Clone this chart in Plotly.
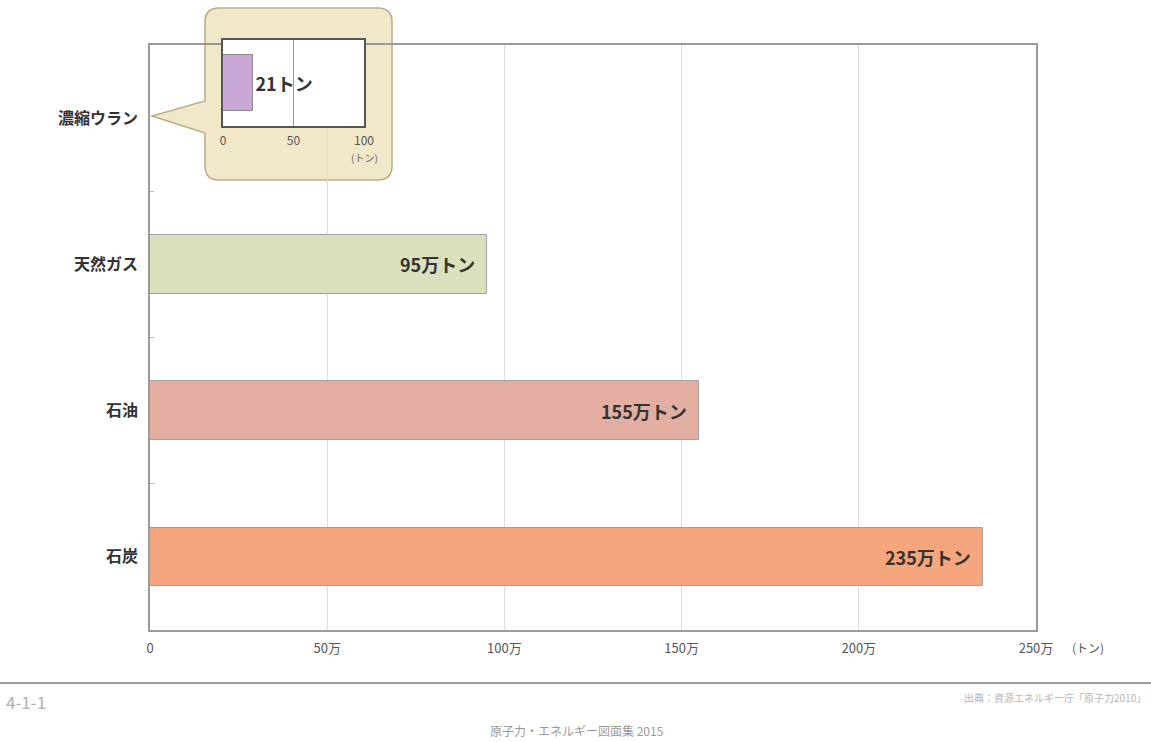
import plotly.graph_objects as go

# ---- data ----
categories = ["濃縮ウラン", "天然ガス", "石油", "石炭"]
values_ton = [21, 950000, 1550000, 2350000]
bar_labels = ["21トン", "95万トン", "155万トン", "235万トン"]
bar_colors = ["#c9a8d6", "#d9e0bd", "#e3aea2", "#f5a67c"]
main_tickvals = [0, 500000, 1000000, 1500000, 2000000, 2500000]
main_ticktext = ["0", "50万", "100万", "150万", "200万", "250万"]
inset_tickvals = [0, 50, 100]
inset_ticktext = ["0", "50", "100"]

W, H = 1151, 742
FONT = "Noto Sans CJK JP"

fig = go.Figure()

# main bars (large-scale fuels)
fig.add_trace(go.Bar(
    y=categories, x=values_ton, orientation="h",
    marker=dict(color=bar_colors, line=dict(color="#a0a0a0", width=1)),
    width=0.4, xaxis="x", yaxis="y", showlegend=False, hoverinfo="x+y",
))
# labels at the inside end of the large bars
for c, v, t in zip(categories[1:], values_ton[1:], bar_labels[1:]):
    fig.add_annotation(x=v, y=c, xref="x", yref="y", text=t, showarrow=False,
                       xanchor="right", yanchor="middle", xshift=-10,
                       font=dict(family=FONT, size=18, color="#333333", weight="bold"))

# inset bar (uranium, tonnes)
fig.add_trace(go.Bar(
    y=[categories[0]], x=[values_ton[0]], orientation="h",
    marker=dict(color=bar_colors[0], line=dict(color="#8a8a8a", width=1)),
    width=0.66, xaxis="x2", yaxis="y2", showlegend=False,
    text=[bar_labels[0]], textposition="outside", cliponaxis=False,
    textfont=dict(family=FONT, size=18, color="#333333", weight="bold"),
))

def px_x(px):  # pixel -> x2 domain
    return (px - 223) / (364 - 223)

def px_y(py):  # pixel -> y2 domain
    return (126 - py) / (126 - 40)

# callout balloon
x0, x1, y0, y1, r = 205, 392, 8, 180, 14
pts = [
    ("M", (x0 + r, y0)), ("L", (x1 - r, y0)), ("Q", (x1, y0), (x1, y0 + r)),
    ("L", (x1, y1 - r)), ("Q", (x1, y1), (x1 - r, y1)), ("L", (x0 + r, y1)),
    ("Q", (x0, y1), (x0, y1 - r)), ("L", (x0, 133)), ("L", (152, 116)),
    ("L", (x0, 101)), ("L", (x0, y0 + r)), ("Q", (x0, y0), (x0 + r, y0)),
]
path = ""
for item in pts:
    cmd = item[0]
    coords = " ".join(f"{px_x(p[0]):.4f},{px_y(p[1]):.4f}" for p in item[1:])
    path += f"{cmd}{coords} "
path += "Z"
fig.add_shape(type="path", path=path, xref="x2 domain", yref="y2 domain",
              fillcolor="#f1e8c9", line=dict(color="#b9ad88", width=1.5), layer="below")
fig.add_shape(type="rect", x0=0, x1=1, y0=0, y1=1, xref="x2 domain", yref="y2 domain",
              fillcolor="white", line=dict(width=0), layer="below")

fig.add_annotation(x=1, y=-0.37, xref="x2 domain", yref="y2 domain", text="(トン)",
                   showarrow=False, xanchor="center", yanchor="middle",
                   font=dict(family=FONT, size=10, color="#666666"))

# main axis unit
fig.add_annotation(x=1088 / W, y=1 - 647 / H, xref="paper", yref="paper", text="(トン)",
                   showarrow=False, xanchor="center", yanchor="middle",
                   font=dict(family=FONT, size=12, color="#555555"))

# footer
fig.add_shape(type="line", x0=0, x1=1, y0=1 - 683 / H, y1=1 - 683 / H, xref="paper", yref="paper",
              line=dict(color="#9a9a9a", width=2))
fig.add_annotation(x=4 / W, y=1 - 701 / H, xref="paper", yref="paper", text="4-1-1",
                   showarrow=False, xanchor="left", yanchor="middle",
                   font=dict(family=FONT, size=17, color="#b0b0b0"))
fig.add_annotation(x=1148 / W, y=1 - 697 / H, xref="paper", yref="paper",
                   text="出典：資源エネルギー庁「原子力2010」", showarrow=False,
                   xanchor="right", yanchor="middle",
                   font=dict(family=FONT, size=10, color="#b5b5b5"))
fig.add_annotation(x=577 / W, y=1 - 730 / H, xref="paper", yref="paper",
                   text="原子力・エネルギー図面集 2015", showarrow=False,
                   xanchor="center", yanchor="middle",
                   font=dict(family=FONT, size=12, color="#9a9a9a"))

fig.update_layout(
    width=W, height=H, autosize=False,
    margin=dict(l=0, r=0, t=0, b=0, autoexpand=False),
    paper_bgcolor="white", plot_bgcolor="white",
    font=dict(family=FONT),
    bargap=0,
    xaxis=dict(domain=[150 / W, 1036 / W], range=[0, 2500000], automargin=False,
               tickvals=main_tickvals, ticktext=main_ticktext,
               showgrid=True, gridcolor="#dcdcdc", gridwidth=1, zeroline=False,
               showline=True, linecolor="#9a9a9a", linewidth=1.5, mirror=True,
               ticks="", tickfont=dict(size=13, color="#555555"), ticklabelstandoff=6),
    yaxis=dict(domain=[1 - 630 / H, 1 - 45 / H], categoryorder="array", automargin=False,
               categoryarray=categories[::-1], range=[-0.5, 3.5],
               showgrid=False, zeroline=False,
               showline=True, linecolor="#9a9a9a", linewidth=1.5, mirror=True,
               ticks="inside", tickson="boundaries", ticklen=4, tickcolor="#bbbbbb",
               tickfont=dict(size=16, color="#333333", weight="bold"), ticklabelstandoff=7),
    xaxis2=dict(domain=[223 / W, 364 / W], anchor="y2", range=[0, 100], automargin=False,
                tickvals=inset_tickvals, ticktext=inset_ticktext,
                showgrid=True, gridcolor="#9a9a9a", gridwidth=1, zeroline=False,
                showline=True, linecolor="#555555", linewidth=1.5, mirror=True,
                ticks="", tickfont=dict(size=12, color="#555555"), ticklabelstandoff=3),
    yaxis2=dict(domain=[1 - 126 / H, 1 - 40 / H], anchor="x2", range=[-0.5, 0.5], automargin=False,
                showticklabels=False, showgrid=False, zeroline=False,
                showline=True, linecolor="#555555", linewidth=1.5, mirror=True),
)

fig.write_html(
    "out.html",
    config={"displayModeBar": False},
    post_script="document.body.style.margin='0px';",
)
